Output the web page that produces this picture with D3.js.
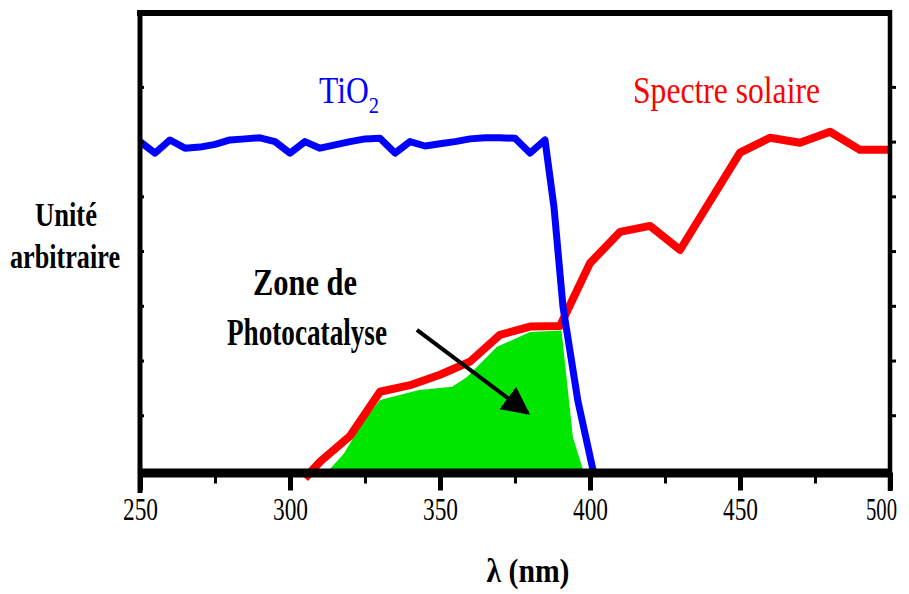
<!DOCTYPE html>
<html>
<head>
<meta charset="utf-8">
<script src="https://cdn.jsdelivr.net/npm/d3@7"></script>
<style>
  body { margin: 0; background: #fff; }
  svg { display: block; }
</style>
</head>
<body>
<script>
// Spectre solaire (unités arbitraires)
const solarNm = [305, 310, 320, 330, 340, 350, 360, 370, 380, 390, 400, 410, 420, 430, 440, 450, 460, 470, 480, 490, 500];
const solarVal = [-0.15, 0.15, 0.62, 1.43, 1.55, 1.74, 1.98, 2.47, 2.62, 2.63, 3.78, 4.35, 4.46, 4.02, 4.91, 5.8, 6.07, 5.98, 6.18, 5.85, 5.85];

// Absorption du TiO2
const tio2Nm = [250, 255, 260, 265, 270, 275, 280, 285, 290, 295, 300, 305, 310, 315, 320, 325, 330, 335, 340, 345, 350, 355, 360, 365, 370, 375, 380, 385, 388, 391, 396, 401];
const tio2Val = [6.0, 5.79, 6.03, 5.88, 5.9, 5.95, 6.03, 6.05, 6.07, 6.0, 5.79, 6.0, 5.88, 5.94, 6.0, 6.05, 6.06, 5.79, 6.0, 5.92, 5.96, 6.0, 6.05, 6.07, 6.07, 6.06, 5.79, 6.03, 4.8, 2.98, 1.25, 0];

// Zone de photocatalyse (contour supérieur de la surface verte)
const zoneNm = [313, 318, 324, 330, 343, 354, 359, 369, 380, 390.5, 394.3, 397.7];
const zoneVal = [0, 0.3, 0.86, 1.28, 1.46, 1.52, 1.7, 2.25, 2.52, 2.55, 0.6, 0];

// flèche (début, pointe) en coordonnées du graphique
const arrowNm = [342.3, 379.3];
const arrowVal = [2.56, 1.04];

const xMajor = [250, 300, 350, 400, 450, 500];
const xMinor = [275, 325, 375, 425, 475];
const yTicks = [1, 2, 3, 4, 5, 6, 7];

const width = 909, height = 594;
const serif = "'Liberation Serif', 'DejaVu Serif', serif";

const svg = d3.select("body").append("svg")
  .attr("width", width)
  .attr("height", height);

const x = d3.scaleLinear().domain([250, 500]).range([140, 890]);
const y = d3.scaleLinear().domain([0, 8.35]).range([470, 13]);

// surface verte
const zone = zoneNm.map((d, i) => [d, zoneVal[i]]);
svg.append("path")
  .datum(zone)
  .attr("fill", "#00e600")
  .attr("d", d3.area().x(d => x(d[0])).y0(y(0)).y1(d => y(d[1])));

const line = d3.line().x(d => x(d[0])).y(d => y(d[1]));

// spectre solaire
svg.append("path")
  .datum(solarNm.map((d, i) => [d, solarVal[i]]))
  .attr("fill", "none")
  .attr("stroke", "#ff0000")
  .attr("stroke-width", 8)
  .attr("stroke-linejoin", "round")
  .attr("d", line);

// TiO2
svg.append("path")
  .datum(tio2Nm.map((d, i) => [d, tio2Val[i]]))
  .attr("fill", "none")
  .attr("stroke", "#0000ff")
  .attr("stroke-width", 7)
  .attr("stroke-linejoin", "round")
  .attr("d", line);

// cadre
svg.append("line").attr("x1", 137).attr("x2", 892).attr("y1", 13).attr("y2", 13)
  .attr("stroke", "#000").attr("stroke-width", 6);
svg.append("line").attr("x1", 140).attr("x2", 140).attr("y1", 10).attr("y2", 493)
  .attr("stroke", "#000").attr("stroke-width", 5);
svg.append("line").attr("x1", 890).attr("x2", 890).attr("y1", 10).attr("y2", 491)
  .attr("stroke", "#000").attr("stroke-width", 4.5);

// axe x
const xAxis = svg.append("g")
  .attr("transform", "translate(0,472.5)")
  .call(d3.axisBottom(x).tickValues(xMajor).tickSize(18).tickSizeOuter(0));
xAxis.select(".domain").attr("stroke-width", 9);
xAxis.selectAll(".tick line").attr("stroke-width", 5);
xAxis.selectAll(".tick text")
  .attr("x", d => d === 500 ? -9 : 0)
  .attr("y", 47)
  .attr("dy", 0)
  .attr("font-family", serif)
  .attr("font-size", 32)
  .attr("fill", "#000")
  .attr("textLength", d => d === 500 ? 31 : 35)
  .attr("lengthAdjust", "spacingAndGlyphs");

const xMinorAxis = svg.append("g")
  .attr("transform", "translate(0,472.5)")
  .call(d3.axisBottom(x).tickValues(xMinor).tickSize(11).tickFormat(""));
xMinorAxis.select(".domain").remove();
xMinorAxis.selectAll(".tick line").attr("stroke-width", 3);

// graduations y (sans étiquettes)
const yRight = svg.append("g")
  .attr("transform", "translate(890,0)")
  .call(d3.axisRight(y).tickValues(yTicks).tickSize(6).tickFormat(""));
yRight.select(".domain").remove();
yRight.selectAll(".tick line").attr("stroke-width", 3);

const yLeft = svg.append("g")
  .attr("transform", "translate(140,0)")
  .call(d3.axisRight(y).tickValues(yTicks).tickSize(4).tickFormat(""));
yLeft.select(".domain").remove();
yLeft.selectAll(".tick line").attr("stroke-width", 3);

// flèche
svg.append("defs").append("marker")
  .attr("id", "head")
  .attr("viewBox", "0 0 10 10")
  .attr("refX", 9).attr("refY", 5)
  .attr("markerWidth", 7).attr("markerHeight", 8)
  .attr("markerUnits", "strokeWidth")
  .attr("orient", "auto")
  .append("path")
  .attr("d", "M0,0 L10,5 L0,10 Z")
  .attr("fill", "#000");

svg.append("line")
  .attr("x1", x(arrowNm[0])).attr("y1", y(arrowVal[0]))
  .attr("x2", x(arrowNm[1])).attr("y2", y(arrowVal[1]))
  .attr("stroke", "#000")
  .attr("stroke-width", 4)
  .attr("marker-end", "url(#head)");

// textes
function label(t, cx, by, size, len, color, weight) {
  svg.append("text")
    .attr("x", cx).attr("y", by)
    .attr("text-anchor", "middle")
    .attr("font-family", serif)
    .attr("font-size", size)
    .attr("font-weight", weight || "normal")
    .attr("fill", color)
    .attr("textLength", len)
    .attr("lengthAdjust", "spacingAndGlyphs")
    .text(t);
}

svg.append("text")
  .attr("x", 349).attr("y", 103)
  .attr("text-anchor", "middle")
  .attr("font-family", serif)
  .attr("font-size", 37)
  .attr("fill", "#0000ff")
  .attr("textLength", 60)
  .attr("lengthAdjust", "spacingAndGlyphs")
  .text("TiO")
  .append("tspan")
  .attr("dy", 10)
  .attr("font-size", 24)
  .text("2");
label("Spectre solaire", 726.5, 103, 37, 187, "#ff0000");
label("Unité", 66, 226, 34, 62, "#000", "bold");
label("arbitraire", 65, 268, 34, 110, "#000", "bold");
label("Zone de", 305, 295, 38, 104, "#000", "bold");
label("Photocatalyse", 307, 345, 38, 160, "#000", "bold");
label("λ (nm)", 528, 582, 33, 83, "#000", "bold");
</script>
</body>
</html>
